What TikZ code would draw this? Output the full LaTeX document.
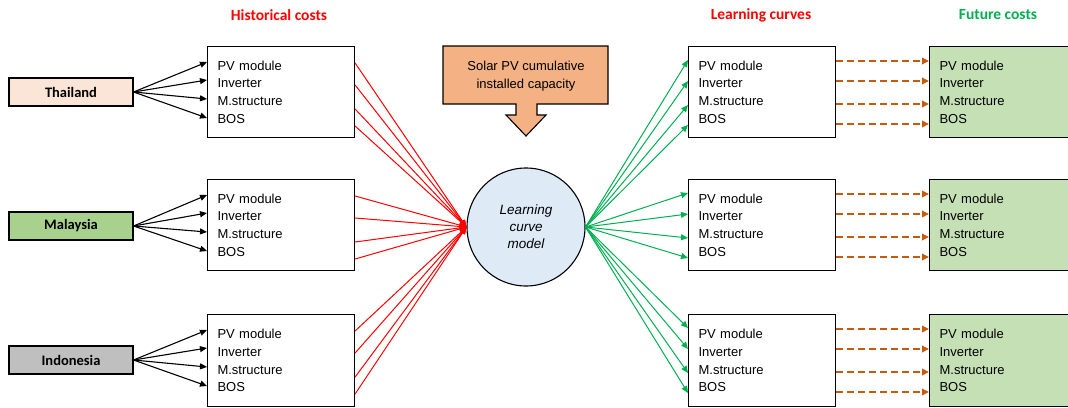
\documentclass[tikz,border=0pt]{standalone}
\usepackage{fontspec}
\setmainfont{Liberation Sans}
\newfontfamily\calfont{Carlito}
\usetikzlibrary{arrows.meta,calc}
\definecolor{peach}{HTML}{FBE5D6}
\definecolor{mgreen}{HTML}{A9D18E}
\definecolor{lgreen}{HTML}{C5E0B4}
\definecolor{greyc}{HTML}{BFBFBF}
\definecolor{orangec}{HTML}{F4B183}
\definecolor{lblue}{HTML}{DEEBF7}
\definecolor{redc}{HTML}{FF0000}
\definecolor{greenc}{HTML}{00B050}
\definecolor{darkor}{HTML}{C55A11}
\tikzset{
  x=1pt,y=-1pt,
  title/.style={font=\calfont\bfseries\fontsize{15.5}{18}\selectfont, anchor=center},
  country/.style={draw, line width=1.1pt, minimum width=124pt, minimum height=28pt, inner sep=0pt, font=\calfont\bfseries\fontsize{14.5}{17}\selectfont},
  listbox/.style={draw, line width=1.1pt, fill=white, anchor=north west, minimum width=147pt, minimum height=91pt, text width=127pt, inner xsep=10pt, inner ysep=0pt, align=left, font=\fontsize{13}{17.7}\selectfont},
  blk/.style={-{Triangle[length=7pt,width=6pt]}, line width=1.1pt},
  redl/.style={-{Triangle[length=7pt,width=6pt]}, redc, line width=1pt},
  grnl/.style={-{Triangle[length=7pt,width=6pt]}, greenc, line width=1pt},
  dsh/.style={-{Triangle[length=7pt,width=6.5pt]}, darkor, line width=2.2pt, dash pattern=on 7pt off 4pt},
}
\newcommand{\items}{PV module\\Inverter\\M.structure\\BOS}
\begin{document}
\begin{tikzpicture}
\useasboundingbox (0,0) rectangle (1068,407);
% titles
\node[title, text=redc] (t1) at (279,15) {Historical costs};
\node[title, text=redc] (t2) at (761,15) {Learning curves};
\node[title, text=greenc] (t3) at (998,15) {Future costs};
% countries
\node[country, fill=peach] (th) at (71,92) {Thailand};
\node[country, fill=mgreen] (my) at (71,226) {Malaysia};
\node[country, fill=greyc] (id) at (71,360) {Indonesia};
% historical boxes
\node[listbox] (h1) at (207,46) {\items};
\node[listbox] (h2) at (207,179) {\items};
\node[listbox, minimum height=92pt] (h3) at (207,314) {\items};
% learning boxes
\node[listbox] (l1) at (688,46) {\items};
\node[listbox] (l2) at (688,179) {\items};
\node[listbox, minimum height=92pt] (l3) at (688,314) {\items};
% future boxes
\node[listbox, fill=lgreen] (f1) at (929,46) {\items};
\node[listbox, fill=lgreen] (f2) at (929,179) {\items};
\node[listbox, fill=lgreen, minimum height=92pt] (f3) at (929,314) {\items};
% callout
\draw[line width=1.1pt, fill=orangec] (443,46) -- (608,46) -- (608,104) -- (537,104) -- (537,115) -- (546,115) -- (526,136) -- (506,115) -- (516,115) -- (516,104) -- (443,104) -- cycle;
\node[align=center, font=\fontsize{13}{18}\selectfont] (cap) at (526,76) {Solar PV cumulative\\installed capacity};
% circle
\node[circle, draw, line width=1.1pt, fill=lblue, minimum size=118pt, inner sep=0pt, align=center, font=\itshape\fontsize{13.5}{17}\selectfont] (lc) at (526,227) {Learning\\curve\\model};
% black arrows
\foreach \c/\h in {th/h1, my/h2, id/h3}{
  \foreach \dy in {16,34,53,72}{
    \draw[blk] (\c.east) -- ($(\h.north west)+(0,\dy)$);
  }
}
% red lines
\foreach \h in {h1,h2,h3}{
  \foreach \dy in {17,39,63,80}{
    \draw[redl] ($(\h.north east)+(0,\dy)$) -- (lc.west);
  }
}
% green lines
\foreach \l in {l1,l2,l3}{
  \foreach \dy in {14,35,59,79}{
    \draw[grnl] (lc.east) -- ($(\l.north west)+(0,\dy)$);
  }
}
% dashed
\foreach \l/\f in {l1/f1,l2/f2,l3/f3}{
  \foreach \dy in {15,35,58,78}{
    \draw[dsh] ($(\l.north east)+(0,\dy)$) -- ($(\f.north west)+(0,\dy)$);
  }
}
\end{tikzpicture}
\end{document}
